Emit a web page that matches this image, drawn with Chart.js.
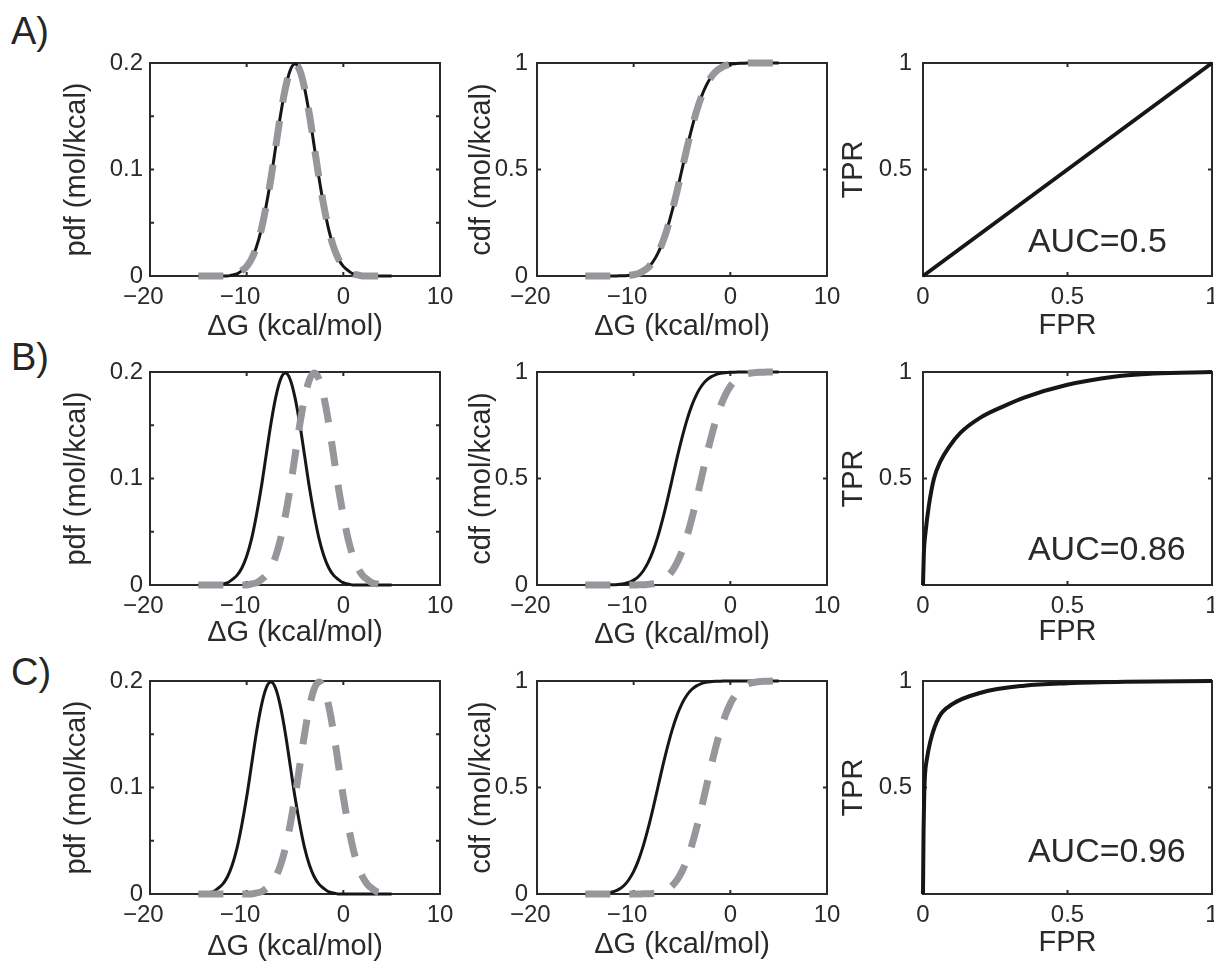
<!DOCTYPE html>
<html>
<head>
<meta charset="utf-8">
<script src="https://cdn.jsdelivr.net/npm/chart.js@4.4.0/dist/chart.umd.min.js"></script>
<style>
  body { margin: 0; background: #fff; }
  #fig { position: relative; width: 1214px; height: 961px; overflow: hidden; }
  #fig canvas { position: absolute; }
  .tag { position: absolute; left: 11px; font: 38px "Liberation Sans", Arial, sans-serif; line-height: 38px; color: #262626; }
</style>
</head>
<body>
<div id="fig">
  <div class="tag" style="top:12px">A)</div>
  <div class="tag" style="top:338px">B)</div>
  <div class="tag" style="top:653px">C)</div>
</div>
<script>
// binding free energy grid (kcal/mol)
const dG = [-15, -14.5, -14, -13.5, -13, -12.5, -12, -11.5, -11, -10.5, -10, -9.5, -9, -8.5, -8, -7.5, -7, -6.5, -6, -5.5,
    -5, -4.5, -4, -3.5, -3, -2.5, -2, -1.5, -1, -0.5, 0, 0.5, 1, 1.5, 2, 2.5, 3, 3.5, 4, 4.5, 5];

// pdf curves, solid = black, dashed = grey
const pdfA_solid = [0, 0, 0, 0, 0, 0, 0, 0.001, 0.002, 0.005, 0.009, 0.016, 0.027, 0.043, 0.065, 0.091, 0.121, 0.151, 0.176, 0.193,
    0.199, 0.193, 0.176, 0.151, 0.121, 0.091, 0.065, 0.043, 0.027, 0.016, 0.009, 0.005, 0.002, 0.001, 0, 0, 0, 0, 0, 0, 0];
const pdfA_dashed = [0, 0, 0, 0, 0, 0, 0, 0.001, 0.002, 0.005, 0.009, 0.016, 0.027, 0.043, 0.065, 0.091, 0.121, 0.151, 0.176, 0.193,
    0.199, 0.193, 0.176, 0.151, 0.121, 0.091, 0.065, 0.043, 0.027, 0.016, 0.009, 0.005, 0.002, 0.001, 0, 0, 0, 0, 0, 0, 0];
const pdfB_solid = [0, 0, 0, 0, 0, 0.001, 0.002, 0.005, 0.009, 0.016, 0.027, 0.043, 0.065, 0.091, 0.121, 0.151, 0.176, 0.193, 0.199,
    0.193, 0.176, 0.151, 0.121, 0.091, 0.065, 0.043, 0.027, 0.016, 0.009, 0.005, 0.002, 0.001, 0, 0, 0, 0, 0, 0, 0, 0, 0];
const pdfB_dashed = [0, 0, 0, 0, 0, 0, 0, 0, 0, 0, 0, 0.001, 0.002, 0.005, 0.009, 0.016, 0.027, 0.043, 0.065, 0.091, 0.121, 0.151,
    0.176, 0.193, 0.199, 0.193, 0.176, 0.151, 0.121, 0.091, 0.065, 0.043, 0.027, 0.016, 0.009, 0.005, 0.002, 0.001, 0, 0, 0];
const pdfC_solid = [0, 0, 0.001, 0.002, 0.005, 0.009, 0.016, 0.027, 0.043, 0.065, 0.091, 0.121, 0.151, 0.176, 0.193, 0.199, 0.193,
    0.176, 0.151, 0.121, 0.091, 0.065, 0.043, 0.027, 0.016, 0.009, 0.005, 0.002, 0.001, 0, 0, 0, 0, 0, 0, 0, 0, 0, 0, 0, 0];
const pdfC_dashed = [0, 0, 0, 0, 0, 0, 0, 0, 0, 0, 0, 0, 0.001, 0.002, 0.005, 0.009, 0.016, 0.027, 0.043, 0.065, 0.091, 0.121, 0.151,
    0.176, 0.193, 0.199, 0.193, 0.176, 0.151, 0.121, 0.091, 0.065, 0.043, 0.027, 0.016, 0.009, 0.005, 0.002, 0.001, 0, 0];

// cdf curves
const cdfA_solid = [0, 0, 0, 0, 0, 0, 0, 0.001, 0.001, 0.003, 0.006, 0.012, 0.023, 0.040, 0.067, 0.106, 0.159, 0.227, 0.309, 0.401,
    0.500, 0.599, 0.691, 0.773, 0.841, 0.894, 0.933, 0.960, 0.977, 0.988, 0.994, 0.997, 0.999, 0.999, 1, 1, 1, 1, 1, 1, 1];
const cdfA_dashed = [0, 0, 0, 0, 0, 0, 0, 0.001, 0.001, 0.003, 0.006, 0.012, 0.023, 0.040, 0.067, 0.106, 0.159, 0.227, 0.309, 0.401,
    0.500, 0.599, 0.691, 0.773, 0.841, 0.894, 0.933, 0.960, 0.977, 0.988, 0.994, 0.997, 0.999, 0.999, 1, 1, 1, 1, 1, 1, 1];
const cdfB_solid = [0, 0, 0, 0, 0, 0.001, 0.001, 0.003, 0.006, 0.012, 0.023, 0.040, 0.067, 0.106, 0.159, 0.227, 0.309, 0.401, 0.500,
    0.599, 0.691, 0.773, 0.841, 0.894, 0.933, 0.960, 0.977, 0.988, 0.994, 0.997, 0.999, 0.999, 1, 1, 1, 1, 1, 1, 1, 1, 1];
const cdfB_dashed = [0, 0, 0, 0, 0, 0, 0, 0, 0, 0, 0, 0.001, 0.001, 0.003, 0.006, 0.012, 0.023, 0.040, 0.067, 0.106, 0.159, 0.227,
    0.309, 0.401, 0.500, 0.599, 0.691, 0.773, 0.841, 0.894, 0.933, 0.960, 0.977, 0.988, 0.994, 0.997, 0.999, 0.999, 1, 1, 1];
const cdfC_solid = [0, 0, 0.001, 0.001, 0.003, 0.006, 0.012, 0.023, 0.040, 0.067, 0.106, 0.159, 0.227, 0.309, 0.401, 0.500, 0.599,
    0.691, 0.773, 0.841, 0.894, 0.933, 0.960, 0.977, 0.988, 0.994, 0.997, 0.999, 0.999, 1, 1, 1, 1, 1, 1, 1, 1, 1, 1, 1, 1];
const cdfC_dashed = [0, 0, 0, 0, 0, 0, 0, 0, 0, 0, 0, 0, 0.001, 0.001, 0.003, 0.006, 0.012, 0.023, 0.040, 0.067, 0.106, 0.159, 0.227,
    0.309, 0.401, 0.500, 0.599, 0.691, 0.773, 0.841, 0.894, 0.933, 0.960, 0.977, 0.988, 0.994, 0.997, 0.999, 0.999, 1, 1];

// ROC curves
const rocA_fpr = [0, 1];
const rocA_tpr = [0, 1];
const rocB_fpr = [0, 0.003, 0.009, 0.02, 0.038, 0.06, 0.089, 0.13, 0.2, 0.28, 0.35, 0.5, 0.66, 0.8, 1];
const rocB_tpr = [0, 0.15, 0.25, 0.37, 0.5, 0.58, 0.646, 0.715, 0.787, 0.84, 0.88, 0.94, 0.978, 0.993, 1];
const rocC_fpr = [0, 0.002, 0.004, 0.007, 0.013, 0.026, 0.055, 0.1, 0.2, 0.35, 0.5, 0.7, 1];
const rocC_tpr = [0, 0.3, 0.45, 0.56, 0.63, 0.72, 0.83, 0.89, 0.945, 0.978, 0.99, 0.997, 1];
const aucLabels = ['AUC=0.5', 'AUC=0.86', 'AUC=0.96'];

// tick values and labels (matlab hangs the minus sign, so pad the right side)
const dGTicks = [-20, -10, 0, 10];
const dGTickLabels = ['\u221220\u00a0\u00a0', '\u221210\u00a0\u00a0', '0', '10'];
const pdfTicks = [0, 0.05, 0.1, 0.15, 0.2];
const pdfTickLabels = ['0', '', '0.1', '', '0.2'];
const cdfTicks = [0, 0.5, 1];
const cdfTickLabels = ['0', '0.5', '1'];
const rateTicks = [0, 0.5, 1];
const fprTickLabels = ['0', '0.5', '1'];
const tprTickLabels = ['', '0.5', '1'];

// layout (pixels)
const FONT = '"Liberation Sans", Arial, Helvetica, sans-serif';
const INK = '#2a2a2a';
const BLACK = '#161616';
const GREY = '#96969b';
const TICK_SIZE = 24;
const TITLE_SIZE = 29;
const HALF_LINE = TITLE_SIZE * 1.2 / 2;
const TOP_PAD = 15;
const cols = [
    {left: 60, axisL: 150, axisR: 440, right: 460, tickPad: 7},
    {left: 465, axisL: 537, axisR: 827, right: 845, tickPad: 9},
    {left: 837, axisL: 923, axisR: 1212, right: 1214, tickPad: 11}
];
const rows = [{top: 63, bottom: 276}, {top: 372, bottom: 585}, {top: 681, bottom: 894}];
const xTitleGap = [[51, 51, 50], [47.5, 49.5, 46.5], [52.5, 51, 48.5]];
const aucAnchorY = [0.113, 0.117, 0.15];

const pts = (xs, ys) => xs.map((x, i) => ({x: x, y: ys[i]}));

// box + inward ticks like matlab, plus the AUC note
const frame = {
    id: 'frame',
    beforeDatasetsDraw(chart) {
        const {ctx, chartArea: a, scales: {x, y}} = chart;
        ctx.save();
        ctx.strokeStyle = INK;
        ctx.lineWidth = 2;
        ctx.strokeRect(a.left, a.top, a.right - a.left, a.bottom - a.top);
        ctx.beginPath();
        x.ticks.forEach(t => {
            const px = x.getPixelForValue(t.value);
            ctx.moveTo(px, a.bottom); ctx.lineTo(px, a.bottom - 4);
            ctx.moveTo(px, a.top); ctx.lineTo(px, a.top + 4);
        });
        y.ticks.forEach(t => {
            const py = y.getPixelForValue(t.value);
            ctx.moveTo(a.left, py); ctx.lineTo(a.left + 4, py);
            ctx.moveTo(a.right, py); ctx.lineTo(a.right - 4, py);
        });
        ctx.stroke();
        ctx.restore();
    },
    afterDatasetsDraw(chart, args, opts) {
        if (!opts.text) return;
        const {ctx, scales: {x, y}} = chart;
        ctx.save();
        ctx.fillStyle = INK;
        ctx.font = '34px ' + FONT;
        ctx.textAlign = 'left';
        ctx.textBaseline = 'alphabetic';
        ctx.fillText(opts.text, x.getPixelForValue(opts.x), y.getPixelForValue(opts.y));
        ctx.restore();
    }
};

function makePanel(r, c, p) {
    const col = cols[c], row = rows[r];
    const boxH = row.bottom - row.top;
    const xH = xTitleGap[r][c] + HALF_LINE;
    const h = TOP_PAD + boxH + Math.ceil(xH) + 2;
    const cv = document.createElement('canvas');
    cv.width = col.right - col.left;
    cv.height = h;
    cv.style.left = col.left + 'px';
    cv.style.top = (row.top - TOP_PAD) + 'px';
    document.getElementById('fig').appendChild(cv);

    return new Chart(cv, {
        type: 'line',
        data: {datasets: p.datasets},
        options: {
            responsive: false,
            animation: false,
            events: [],
            layout: {padding: {top: TOP_PAD, left: 0, right: col.right - col.axisR, bottom: h - TOP_PAD - boxH - xH}},
            elements: {point: {radius: 0}, line: {cubicInterpolationMode: 'monotone', fill: false, borderCapStyle: 'butt', borderJoinStyle: 'round'}},
            scales: {
                x: {
                    type: 'linear', min: p.xTicks[0], max: p.xTicks[p.xTicks.length - 1],
                    afterBuildTicks: s => { s.ticks = p.xTicks.map(v => ({value: v})); },
                    afterFit: s => { s.height = xH; s.paddingLeft = 0; s.paddingRight = 0; },
                    grid: {display: false, drawTicks: false},
                    border: {display: false},
                    ticks: {
                        autoSkip: false, maxRotation: 0, padding: 7, color: INK,
                        font: {family: FONT, size: TICK_SIZE},
                        callback: (v, i) => p.xLabels[i]
                    },
                    title: {display: true, text: p.xTitle, color: INK, padding: 0, font: {family: FONT, size: TITLE_SIZE}}
                },
                y: {
                    type: 'linear', min: p.yTicks[0], max: p.yTicks[p.yTicks.length - 1],
                    afterBuildTicks: s => { s.ticks = p.yTicks.map(v => ({value: v})); },
                    afterFit: s => { s.width = col.axisL - col.left; s.paddingTop = 0; s.paddingBottom = 0; },
                    grid: {display: false, drawTicks: false},
                    border: {display: false},
                    ticks: {
                        autoSkip: false, padding: col.tickPad, color: INK,
                        font: {family: FONT, size: TICK_SIZE},
                        callback: (v, i) => p.yLabels[i]
                    },
                    title: {display: true, text: p.yTitle, color: INK, padding: 0, font: {family: FONT, size: TITLE_SIZE}}
                }
            },
            plugins: {
                legend: {display: false},
                tooltip: {enabled: false},
                frame: p.note ? {text: p.note, x: 0.363, y: aucAnchorY[r]} : {}
            }
        },
        plugins: [frame]
    });
}

function pair(solid, dashed) {
    return [
        {data: pts(dG, solid), borderColor: BLACK, borderWidth: 3, order: 1, clip: 6},
        {data: pts(dG, dashed), borderColor: GREY, borderWidth: 7, borderDash: [25, 19], order: 0, clip: 6}
    ];
}

function roc(fpr, tpr) {
    return [{data: pts(fpr, tpr), borderColor: BLACK, borderWidth: 4, clip: 6}];
}

const pdfRows = [[pdfA_solid, pdfA_dashed], [pdfB_solid, pdfB_dashed], [pdfC_solid, pdfC_dashed]];
const cdfRows = [[cdfA_solid, cdfA_dashed], [cdfB_solid, cdfB_dashed], [cdfC_solid, cdfC_dashed]];
const rocRows = [[rocA_fpr, rocA_tpr], [rocB_fpr, rocB_tpr], [rocC_fpr, rocC_tpr]];

for (let r = 0; r < 3; r++) {
    makePanel(r, 0, {
        datasets: pair(pdfRows[r][0], pdfRows[r][1]),
        xTicks: dGTicks, xLabels: dGTickLabels, yTicks: pdfTicks, yLabels: pdfTickLabels,
        xTitle: '\u0394G (kcal/mol)', yTitle: 'pdf (mol/kcal)'
    });
    makePanel(r, 1, {
        datasets: pair(cdfRows[r][0], cdfRows[r][1]),
        xTicks: dGTicks, xLabels: dGTickLabels, yTicks: cdfTicks, yLabels: cdfTickLabels,
        xTitle: '\u0394G (kcal/mol)', yTitle: 'cdf (mol/kcal)'
    });
    makePanel(r, 2, {
        datasets: roc(rocRows[r][0], rocRows[r][1]),
        xTicks: rateTicks, xLabels: fprTickLabels, yTicks: rateTicks, yLabels: tprTickLabels,
        xTitle: 'FPR', yTitle: 'TPR', note: aucLabels[r]
    });
}
</script>
</body>
</html>
